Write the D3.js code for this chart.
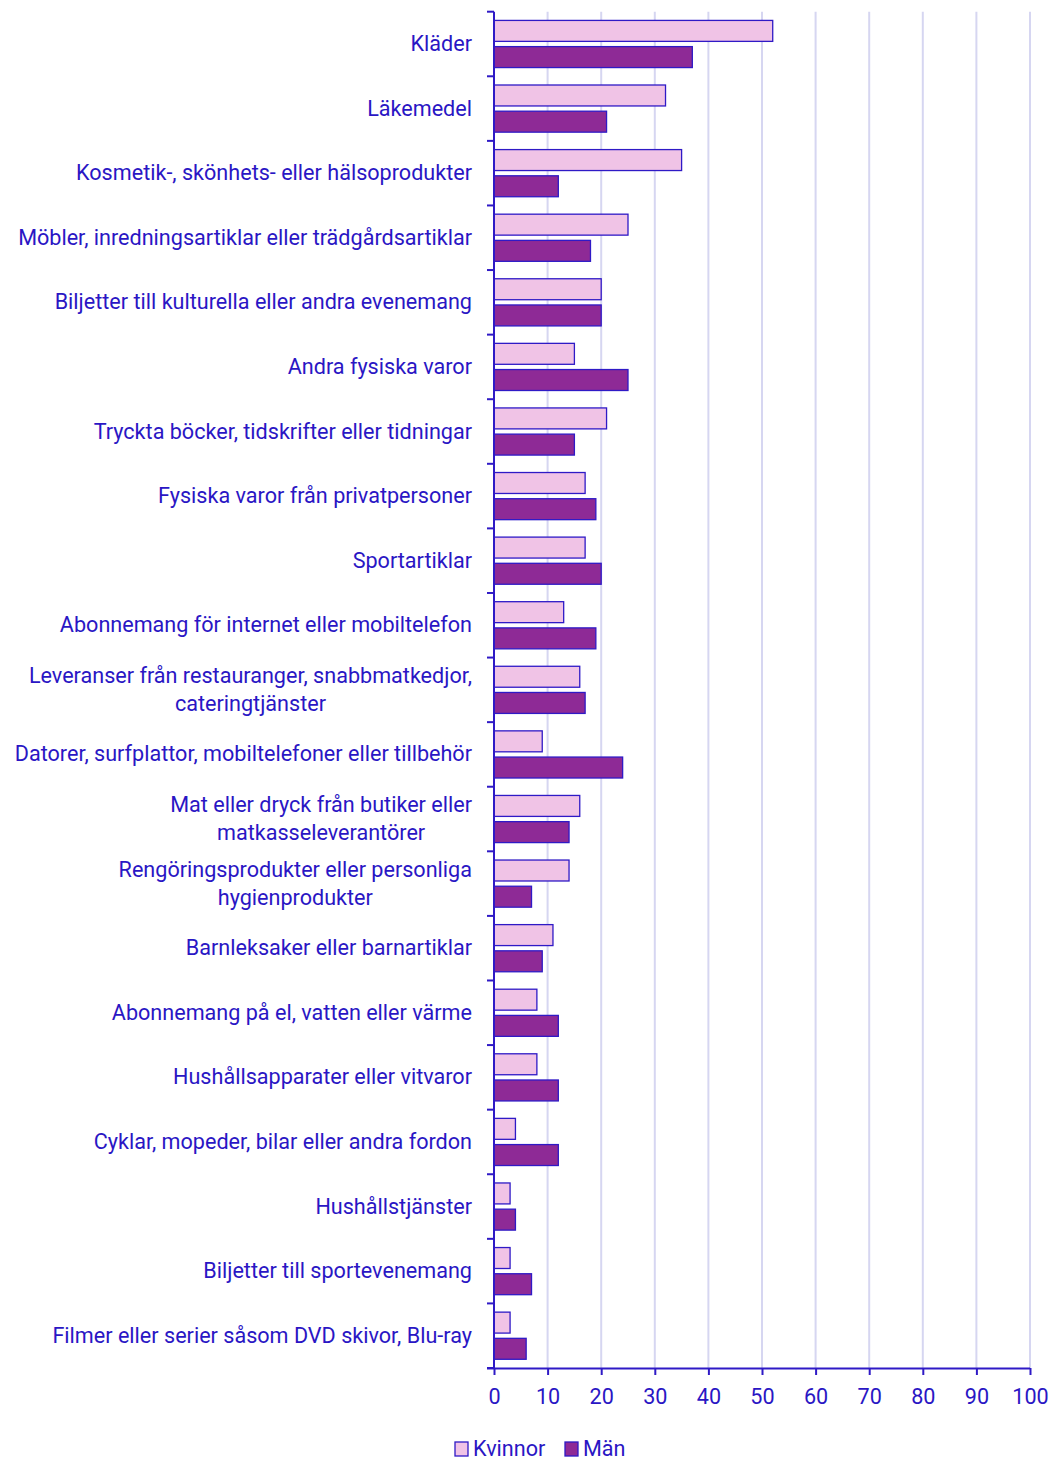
<!DOCTYPE html>
<html><head><meta charset="utf-8">
<script src="https://cdn.jsdelivr.net/npm/d3@7/dist/d3.min.js"></script>
<style>body{margin:0;background:#fff;} svg{display:block;font-family:Roboto,"Noto Sans",sans-serif;}</style>
</head><body><svg id="c" width="1050" height="1461"></svg>
<script>
const categories = [
  ["Kläder"],
  ["Läkemedel"],
  ["Kosmetik-, skönhets- eller hälsoprodukter"],
  ["Möbler, inredningsartiklar eller trädgårdsartiklar"],
  ["Biljetter till kulturella eller andra evenemang"],
  ["Andra fysiska varor"],
  ["Tryckta böcker, tidskrifter eller tidningar"],
  ["Fysiska varor från privatpersoner"],
  ["Sportartiklar"],
  ["Abonnemang för internet eller mobiltelefon"],
  ["Leveranser från restauranger, snabbmatkedjor,", "cateringtjänster"],
  ["Datorer, surfplattor, mobiltelefoner eller tillbehör"],
  ["Mat eller dryck från butiker eller", "matkasseleverantörer"],
  ["Rengöringsprodukter eller personliga", "hygienprodukter"],
  ["Barnleksaker eller barnartiklar"],
  ["Abonnemang på el, vatten eller värme"],
  ["Hushållsapparater eller vitvaror"],
  ["Cyklar, mopeder, bilar eller andra fordon"],
  ["Hushållstjänster"],
  ["Biljetter till sportevenemang"],
  ["Filmer eller serier såsom DVD skivor, Blu-ray"]
];
const kvinnor = [52, 32, 35, 25, 20, 15, 21, 17, 17, 13, 16, 9, 16, 14, 11, 8, 8, 4, 3, 3, 3];
const man     = [37, 21, 12, 18, 20, 25, 15, 19, 20, 19, 17, 24, 14, 7, 9, 12, 12, 12, 4, 7, 6];
const seriesNames = ["Kvinnor", "Män"];
const xTicks = [0, 10, 20, 30, 40, 50, 60, 70, 80, 90, 100];

(function () {
const textColor = "#2a16c4";
const strokeColor = "#2f1ac6";
const colors = ["#f0c3e6", "#8e2a96"];
const gridColor = "#d6d6f1";
const fs = 21.6;

const svg = d3.select("#c");
const pL = 494, pR = 1030, pT = 11.7, pB = 1368;

const x = d3.scaleLinear().domain([0, 100]).range([pL, pR]);
const idx = categories.map((d, i) => i);
const y = d3.scaleBand().domain(idx).range([pT, pB]).paddingInner(0.27).paddingOuter(0.135);
const ySub = d3.scaleBand().domain([0, 1]).range([0, y.bandwidth()]).paddingInner(0.2);

// gridlines
svg.append("g").selectAll("line").data(xTicks.slice(1)).join("line")
  .attr("x1", d => x(d)).attr("x2", d => x(d))
  .attr("y1", pT).attr("y2", pB)
  .attr("stroke", gridColor).attr("stroke-width", 2);

// bars
const g = svg.append("g");
idx.forEach(i => {
  [kvinnor[i], man[i]].forEach((v, s) => {
    g.append("rect")
      .attr("x", x(0)).attr("y", y(i) + ySub(s))
      .attr("width", x(v) - x(0)).attr("height", ySub.bandwidth())
      .attr("fill", colors[s]).attr("stroke", strokeColor).attr("stroke-width", 1.3);
  });
});

// y axis
const step = y.step();
const boundaries = d3.range(categories.length + 1).map(i => pT + i * step);
svg.append("line").attr("x1", pL).attr("x2", pL).attr("y1", pT).attr("y2", pB)
  .attr("stroke", strokeColor).attr("stroke-width", 2);
svg.append("g").selectAll("line").data(boundaries).join("line")
  .attr("x1", pL - 7).attr("x2", pL).attr("y1", d => d).attr("y2", d => d)
  .attr("stroke", strokeColor).attr("stroke-width", 2);

// y labels
idx.forEach(i => {
  const lines = categories[i];
  const cy = y(i) + y.bandwidth() / 2 - 0.5;
  const lh = 28;
  const t = svg.append("text").attr("fill", textColor).attr("font-size", fs);
  if (lines.length === 1) {
    t.attr("x", 472).attr("y", cy).attr("dy", "0.35em").attr("text-anchor", "end").text(lines[0]);
  } else {
    const tmp = svg.append("text").attr("font-size", fs).text(lines[0]);
    const w = Math.max(...lines.map(l => { tmp.text(l); return tmp.node().getComputedTextLength(); }));
    tmp.remove();
    const cx = 472 - w / 2;
    lines.forEach((l, k) => {
      t.append("tspan").attr("x", cx).attr("y", cy + (k - (lines.length - 1) / 2) * lh)
        .attr("dy", "0.35em").attr("text-anchor", "middle").text(l);
    });
  }
});

// x axis
const xa = svg.append("g").attr("transform", `translate(0,${pB})`)
  .call(d3.axisBottom(x).tickValues(xTicks).tickSize(7).tickSizeOuter(0).tickPadding(14));
xa.select(".domain").attr("stroke", strokeColor).attr("stroke-width", 2).attr("d", `M${pL - 7},0.5H${pR}`);
xa.selectAll(".tick line").attr("stroke", strokeColor).attr("stroke-width", 2);
xa.selectAll(".tick text").attr("fill", textColor).attr("font-size", fs).attr("font-family", "Roboto, sans-serif");

// legend
const legX = [455, 565];
seriesNames.forEach((n, s) => {
  svg.append("rect").attr("x", legX[s]).attr("y", 1442).attr("width", 13).attr("height", 14)
    .attr("fill", colors[s]).attr("stroke", strokeColor).attr("stroke-width", 1.3);
  svg.append("text").attr("x", legX[s] + 18).attr("y", 1448).attr("dy", "0.35em")
    .attr("fill", textColor).attr("font-size", fs).text(n);
});
})();
</script></body></html>
